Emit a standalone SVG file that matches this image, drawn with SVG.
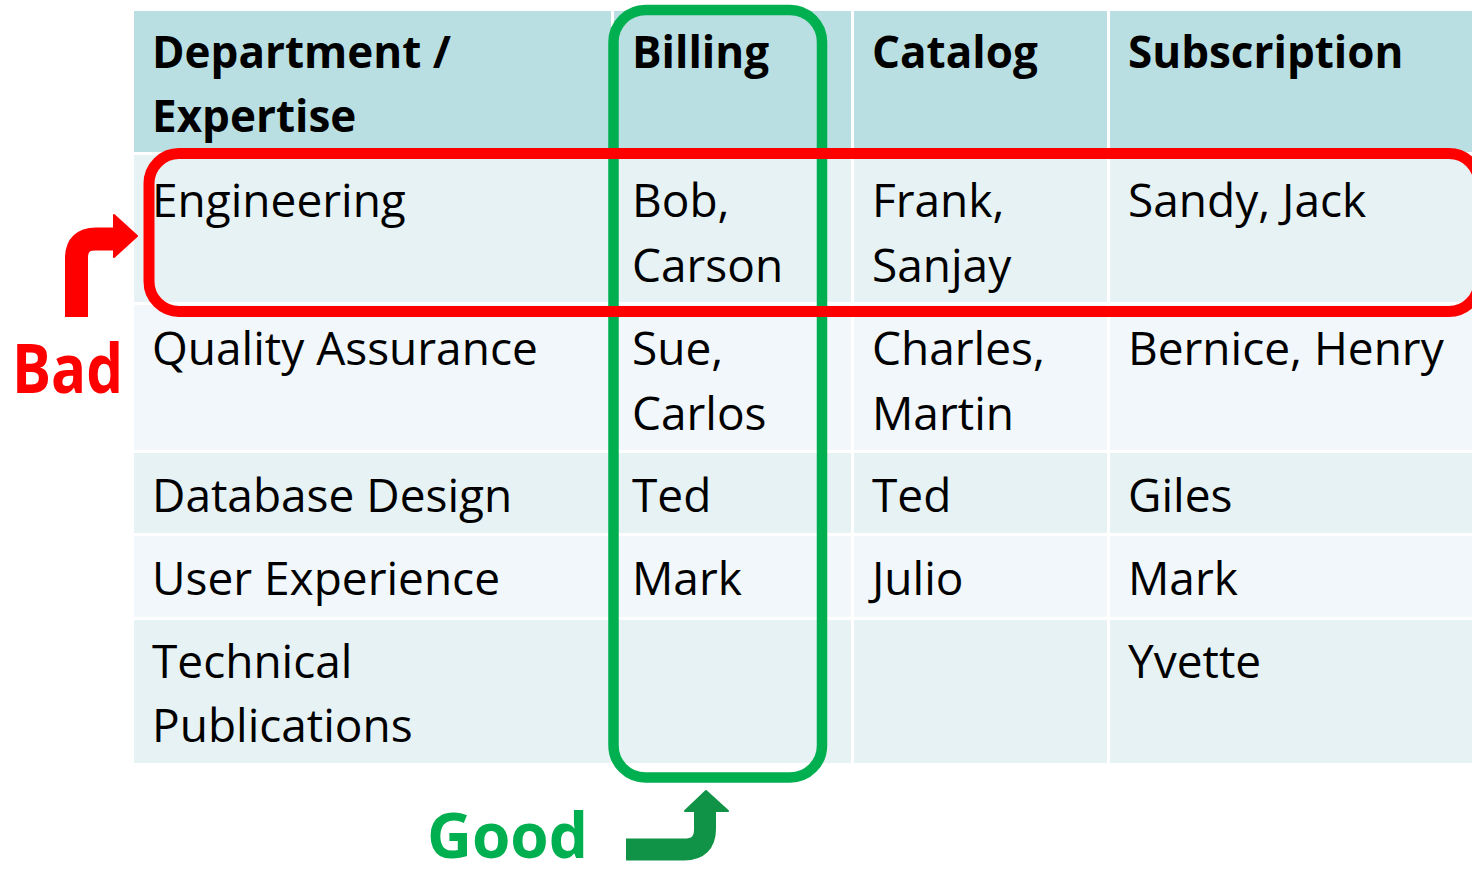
<svg xmlns="http://www.w3.org/2000/svg" width="1472" height="875" viewBox="0 0 1472 875">
<style>
.h{fill:#B9DFE3}
.o{fill:#E6F2F4}
.e{fill:#F1F7FA}
text{font-family:"Open Sans","Noto Sans","Liberation Sans",sans-serif;fill:#000}
.t{font-size:46px}
.b{font-size:44px;font-weight:bold}
</style>
<rect width="1472" height="875" fill="#fff"/>
<g id="table">
<g id="header">
<rect class="h" x="134" y="11" width="477" height="141"/>
<rect class="h" x="614" y="11" width="237" height="141"/>
<rect class="h" x="854" y="11" width="253" height="141"/>
<rect class="h" x="1110" y="11" width="362" height="141"/>
<text class="b" x="152" y="68">Department /</text>
<text class="b" x="152" y="132">Expertise</text>
<text class="b" x="632" y="68">Billing</text>
<text class="b" x="872" y="68">Catalog</text>
<text class="b" x="1128" y="68">Subscription</text>
</g>
<g id="row-engineering">
<rect class="o" x="134" y="155" width="477" height="147"/>
<rect class="o" x="614" y="155" width="237" height="147"/>
<rect class="o" x="854" y="155" width="253" height="147"/>
<rect class="o" x="1110" y="155" width="362" height="147"/>
<text class="t" x="152" y="217">Engineering</text>
<text class="t" x="632" y="217">Bob,</text>
<text class="t" x="632" y="282">Carson</text>
<text class="t" x="872" y="217">Frank,</text>
<text class="t" x="872" y="282">Sanjay</text>
<text class="t" x="1128" y="217">Sandy, Jack</text>
</g>
<g id="row-qa">
<rect class="e" x="134" y="305" width="477" height="145"/>
<rect class="e" x="614" y="305" width="237" height="145"/>
<rect class="e" x="854" y="305" width="253" height="145"/>
<rect class="e" x="1110" y="305" width="362" height="145"/>
<text class="t" x="152" y="365">Quality Assurance</text>
<text class="t" x="632" y="365">Sue,</text>
<text class="t" x="632" y="430">Carlos</text>
<text class="t" x="872" y="365">Charles,</text>
<text class="t" x="872" y="430">Martin</text>
<text class="t" x="1128" y="365">Bernice, Henry</text>
</g>
<g id="row-db">
<rect class="o" x="134" y="453" width="477" height="80"/>
<rect class="o" x="614" y="453" width="237" height="80"/>
<rect class="o" x="854" y="453" width="253" height="80"/>
<rect class="o" x="1110" y="453" width="362" height="80"/>
<text class="t" x="152" y="512">Database Design</text>
<text class="t" x="632" y="512">Ted</text>
<text class="t" x="872" y="512">Ted</text>
<text class="t" x="1128" y="512">Giles</text>
</g>
<g id="row-ux">
<rect class="e" x="134" y="536" width="477" height="81"/>
<rect class="e" x="614" y="536" width="237" height="81"/>
<rect class="e" x="854" y="536" width="253" height="81"/>
<rect class="e" x="1110" y="536" width="362" height="81"/>
<text class="t" x="152" y="595">User Experience</text>
<text class="t" x="632" y="595">Mark</text>
<text class="t" x="872" y="595">Julio</text>
<text class="t" x="1128" y="595">Mark</text>
</g>
<g id="row-tp">
<rect class="o" x="134" y="620" width="477" height="143"/>
<rect class="o" x="614" y="620" width="237" height="143"/>
<rect class="o" x="854" y="620" width="253" height="143"/>
<rect class="o" x="1110" y="620" width="362" height="143"/>
<text class="t" x="152" y="678">Technical</text>
<text class="t" x="152" y="742">Publications</text>
<text class="t" x="1128" y="678">Yvette</text>
</g>
</g>
<g id="good-box">
<rect x="613.5" y="10" width="208.5" height="767.5" rx="32" fill="none" stroke="#00B050" stroke-width="10.5"/>
</g>
<g id="bad-box">
<rect x="149" y="153.5" width="1330" height="158" rx="30" fill="none" stroke="#FF0000" stroke-width="11"/>
</g>
<g id="connectors">
<path d="M76.5 317 V258 Q76.5 239 96 239 H118" fill="none" stroke="#FF0000" stroke-width="23"/>
<polygon points="114,215 137,236 114,257" fill="#FF0000" stroke="#FF0000" stroke-width="2" stroke-linejoin="round"/>
<path d="M626 849.5 H684 Q705 849.5 705 829 V808" fill="none" stroke="#109346" stroke-width="22"/>
<polygon points="685,811 706,791 728,811" fill="#109346" stroke="#109346" stroke-width="2" stroke-linejoin="round"/>
</g>
<g id="labels">
<text x="12" y="393" font-size="68" font-weight="bold" textLength="111" lengthAdjust="spacingAndGlyphs" style="fill:#FF0000">Bad</text>
<text x="427" y="858" font-size="62" font-weight="bold" textLength="161" lengthAdjust="spacingAndGlyphs" style="fill:#00B050">Good</text>
</g>
</svg>
